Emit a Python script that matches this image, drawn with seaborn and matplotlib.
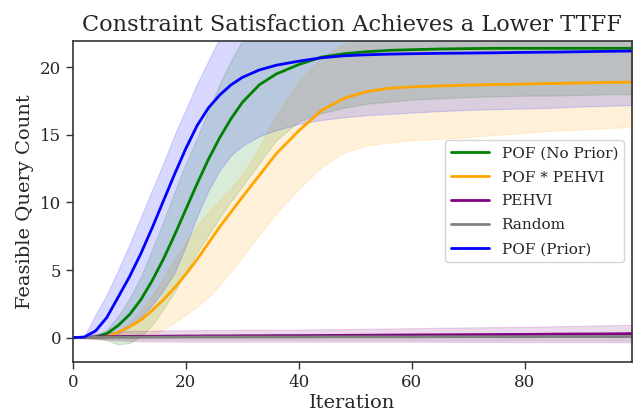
import matplotlib
matplotlib.use("Agg")
import matplotlib.pyplot as plt
import seaborn as sns
import numpy as np
import pandas as pd

iterations = [0, 2, 4, 6, 8, 10, 12, 14, 16, 18, 20, 22, 24, 26, 28, 30, 33, 36,
              40, 44, 48, 52, 56, 60, 65, 70, 75, 80, 85, 90, 95, 99]

pof_noprior_mean = [0, 0, 0.05, 0.3, 0.9, 1.7, 2.8, 4.2, 5.8, 7.6, 9.5, 11.4, 13.2, 14.8, 16.2, 17.4, 18.7, 19.5,
                    20.2, 20.75, 21.0, 21.15, 21.25, 21.3, 21.35, 21.38, 21.4, 21.4, 21.4, 21.4, 21.4, 21.4]
pof_noprior_low = [0, 0, -0.05, -0.2, -0.5, -0.4, 0.1, 0.9, 2.1, 3.4, 4.9, 6.3, 7.6, 8.9, 10.1, 11.2, 12.9, 14.6,
                   16.0, 16.6, 17.0, 17.3, 17.45, 17.6, 17.7, 17.8, 17.85, 17.9, 17.9, 17.95, 18.0, 18.0]
pof_noprior_high = [0, 0, 0.1, 0.6, 1.6, 2.9, 4.5, 6.5, 8.6, 10.8, 12.9, 14.8, 16.8, 18.8, 20.5, 22.0, 23.2, 23.9,
                    24.4, 24.7, 24.8, 24.85, 24.85, 24.85, 24.85, 24.85, 24.85, 24.85, 24.85, 24.85, 24.85, 24.85]

pof_pehvi_mean = [0, 0, 0, 0.05, 0.4, 0.8, 1.3, 2.0, 2.8, 3.7, 4.7, 5.8, 7.0, 8.2, 9.3, 10.4, 12.0, 13.6,
                  15.3, 16.8, 17.7, 18.2, 18.45, 18.55, 18.62, 18.68, 18.72, 18.76, 18.8, 18.84, 18.88, 18.9]
pof_pehvi_low = [0, 0, 0, 0, 0, 0, 0, 0.2, 0.6, 1.1, 1.7, 2.3, 3.0, 3.9, 4.9, 6.0, 7.6, 9.2,
                 11.0, 12.6, 13.7, 14.2, 14.45, 14.6, 14.7, 14.85, 15.0, 15.15, 15.3, 15.4, 15.5, 15.6]
pof_pehvi_high = [0, 0, 0, 0.1, 0.5, 1.1, 2.0, 3.1, 4.4, 5.8, 7.1, 8.3, 9.3, 10.2, 11.1, 12.1, 14.1, 16.5,
                  19.0, 20.7, 21.7, 22.3, 22.6, 22.7, 22.8, 22.85, 22.9, 22.9, 22.95, 22.95, 23.0, 23.0]

pehvi_mean = [0, 0.02, 0.05, 0.07, 0.08, 0.09, 0.1, 0.1, 0.11, 0.11, 0.12, 0.12, 0.13, 0.13, 0.13, 0.14, 0.14, 0.15,
              0.15, 0.16, 0.17, 0.18, 0.19, 0.2, 0.21, 0.22, 0.23, 0.24, 0.26, 0.27, 0.28, 0.3]
pehvi_low = [0, -0.05, -0.1, -0.15, -0.2, -0.25, -0.27, -0.28, -0.29, -0.3, -0.3, -0.3, -0.3, -0.3, -0.3, -0.3, -0.3, -0.3,
             -0.3, -0.3, -0.3, -0.3, -0.3, -0.3, -0.31, -0.32, -0.32, -0.33, -0.33, -0.34, -0.34, -0.35]
pehvi_high = [0, 0.1, 0.3, 0.4, 0.45, 0.5, 0.5, 0.52, 0.53, 0.54, 0.55, 0.56, 0.57, 0.57, 0.58, 0.58, 0.59, 0.59,
              0.6, 0.62, 0.64, 0.66, 0.68, 0.7, 0.73, 0.76, 0.78, 0.8, 0.84, 0.88, 0.92, 0.95]

random_mean = [0, 0.01, 0.02, 0.03, 0.03, 0.03, 0.04, 0.04, 0.04, 0.04, 0.05, 0.05, 0.05, 0.05, 0.05, 0.05, 0.05, 0.05,
               0.05, 0.06, 0.06, 0.06, 0.06, 0.06, 0.07, 0.07, 0.07, 0.07, 0.08, 0.08, 0.08, 0.08]
random_low = [0, -0.05, -0.08, -0.1, -0.12, -0.13, -0.14, -0.15, -0.15, -0.15, -0.15, -0.15, -0.15, -0.15, -0.15, -0.15,
              -0.16, -0.16, -0.16, -0.16, -0.17, -0.17, -0.17, -0.17, -0.18, -0.18, -0.18, -0.18, -0.19, -0.19, -0.2, -0.2]
random_high = [0, 0.07, 0.12, 0.16, 0.18, 0.19, 0.2, 0.21, 0.21, 0.22, 0.22, 0.22, 0.23, 0.23, 0.23, 0.23, 0.24, 0.24,
               0.24, 0.25, 0.25, 0.26, 0.26, 0.27, 0.28, 0.29, 0.3, 0.31, 0.32, 0.33, 0.34, 0.35]

pof_prior_mean = [0, 0.05, 0.5, 1.5, 3.0, 4.5, 6.2, 8.1, 10.1, 12.1, 14.0, 15.7, 17.0, 17.95, 18.7, 19.25, 19.8, 20.15,
                  20.45, 20.7, 20.85, 20.92, 20.97, 21.0, 21.03, 21.05, 21.07, 21.1, 21.12, 21.15, 21.18, 21.2]
pof_prior_low = [0, 0, 0, 0.1, 0.3, 0.8, 1.5, 2.4, 3.5, 4.8, 6.8, 9.0, 10.9, 12.4, 13.5, 14.2, 14.9, 15.35,
                 15.8, 16.1, 16.3, 16.45, 16.55, 16.65, 16.75, 16.85, 16.9, 16.95, 17.0, 17.1, 17.15, 17.2]
pof_prior_high = [0, 0.1, 1.7, 3.2, 5.0, 6.9, 8.9, 10.9, 12.9, 15.0, 16.9, 18.8, 20.5, 22.2, 23.4, 24.2, 24.8, 25.1,
                  25.2, 25.2, 25.2, 25.2, 25.2, 25.2, 25.2, 25.2, 25.2, 25.2, 25.2, 25.2, 25.2, 25.2]

series_names = ["POF (No Prior)", "POF * PEHVI", "PEHVI", "Random", "POF (Prior)"]
series_colors = ["green", "orange", "purple", "gray", "blue"]
means = [pof_noprior_mean, pof_pehvi_mean, pehvi_mean, random_mean, pof_prior_mean]
lows = [pof_noprior_low, pof_pehvi_low, pehvi_low, random_low, pof_prior_low]
highs = [pof_noprior_high, pof_pehvi_high, pehvi_high, random_high, pof_prior_high]

sns.set_style("ticks")
plt.rcParams["font.family"] = ["DejaVu Serif"]
plt.rcParams["axes.edgecolor"] = "#333333"

fig = plt.figure(figsize=(6.35, 4.13), dpi=100)
ax = fig.add_axes([0.115, 0.1235, 0.88, 0.7775])

for name, col, m, lo, hi in zip(series_names, series_colors, means, lows, highs):
    df = pd.DataFrame({"Iteration": iterations, "value": m})
    ax.fill_between(iterations, lo, hi, color=col, alpha=0.15, linewidth=0.8)
    sns.lineplot(data=df, x="Iteration", y="value", color=col, linewidth=2, label=name, ax=ax)

ax.set_xlim(0, 99)
ax.set_ylim(-1.8, 21.95)
ax.set_xticks([0, 20, 40, 60, 80])
ax.set_yticks([0, 5, 10, 15, 20])
ax.tick_params(labelsize=12, length=5, width=1, color="#333333")
ax.set_xlabel("Iteration", fontsize=14, labelpad=2)
ax.set_ylabel("Feasible Query Count", fontsize=14)
ax.set_title("Constraint Satisfaction Achieves a Lower TTFF", fontsize=16.2, pad=7)
for s in ax.spines.values():
    s.set_linewidth(1.2)
ax.legend(loc="center right", fontsize=11, frameon=True, handlelength=2.5, labelspacing=0.65)

fig.savefig("out.png", dpi=100)
